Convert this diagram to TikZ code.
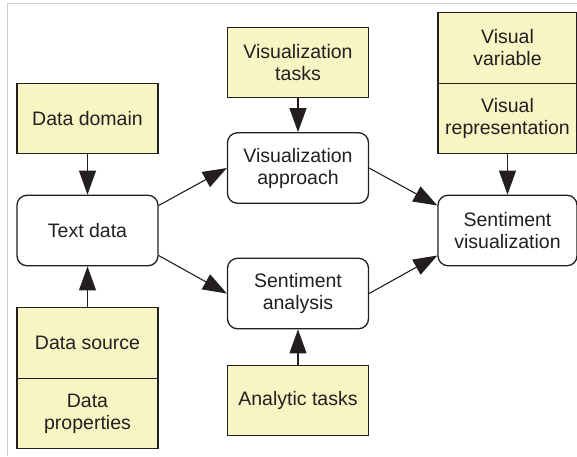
\documentclass[tikz,border=0pt]{standalone}
\usepackage{fontspec}
\setmainfont{Liberation Sans}
\usepackage{tikz}
\usetikzlibrary{arrows.meta,positioning,calc}
\definecolor{SY}{HTML}{F8F5C4}
\definecolor{SK}{HTML}{231F20}
\definecolor{SG}{HTML}{CCCCCC}

\begin{document}
\begin{tikzpicture}[x=1pt,y=1pt,
    every node/.style={font=\fontsize{19.5}{22}\selectfont\color{SK},
      align=center, inner sep=0pt},
    factor/.style={draw=SK, fill=SY, line width=1.3pt,
      minimum width=141pt, minimum height=70.5pt},
    stage/.style={draw=SK, fill=white, line width=1.3pt, rounded corners=10pt,
      minimum width=141pt, minimum height=70.5pt},
    link/.style={draw=SK, line width=1.1pt,
      -{Triangle[length=24pt,width=17pt]}}]
  \useasboundingbox (0,0) rectangle (577,-456);
  % frame
  \draw[SG, line width=1pt] (7,-456) -- (7,-3) -- (577,-3);

  % left column
  \node[factor] (dom) at (87.5,-118.5) {Data domain};
  \node[stage] (txt) at (87.5,-230.5) {Text data};
  \node[factor] (src) at (87.5,-343) {Data source};
  \node[factor] (prop) at (87.5,-413.5) {Data\\properties};

  % middle column
  \node[factor] (vtask) at (298,-62.5) {Visualization\\tasks};
  \node[stage] (vapp) at (298,-168) {Visualization\\approach};
  \node[stage] (sana) at (298,-293.5) {Sentiment\\analysis};
  \node[factor] (atask) at (298,-400.5) {Analytic tasks};

  % right column
  \node[factor, minimum width=139pt] (vvar) at (507.5,-48) {Visual\\variable};
  \node[factor, minimum width=139pt] (vrep) at (507.5,-118.5) {Visual\\representation};
  \node[stage, minimum width=139pt] (svis) at (507.5,-230.5) {Sentiment\\visualization};

  % connectors
  \draw[link] (dom) -- (txt);
  \draw[link] (src) -- (txt);
  \draw[link] ([yshift=25pt]txt.east) -- (vapp.west);
  \draw[link] ([yshift=-25pt]txt.east) -- (sana.west);
  \draw[link] (vtask) -- (vapp);
  \draw[link] (atask) -- (sana);
  \draw[link] (vapp.east) -- ([yshift=25pt]svis.west);
  \draw[link] (sana.east) -- ([yshift=-25pt]svis.west);
  \draw[link] (vrep) -- (svis);
\end{tikzpicture}
\end{document}
